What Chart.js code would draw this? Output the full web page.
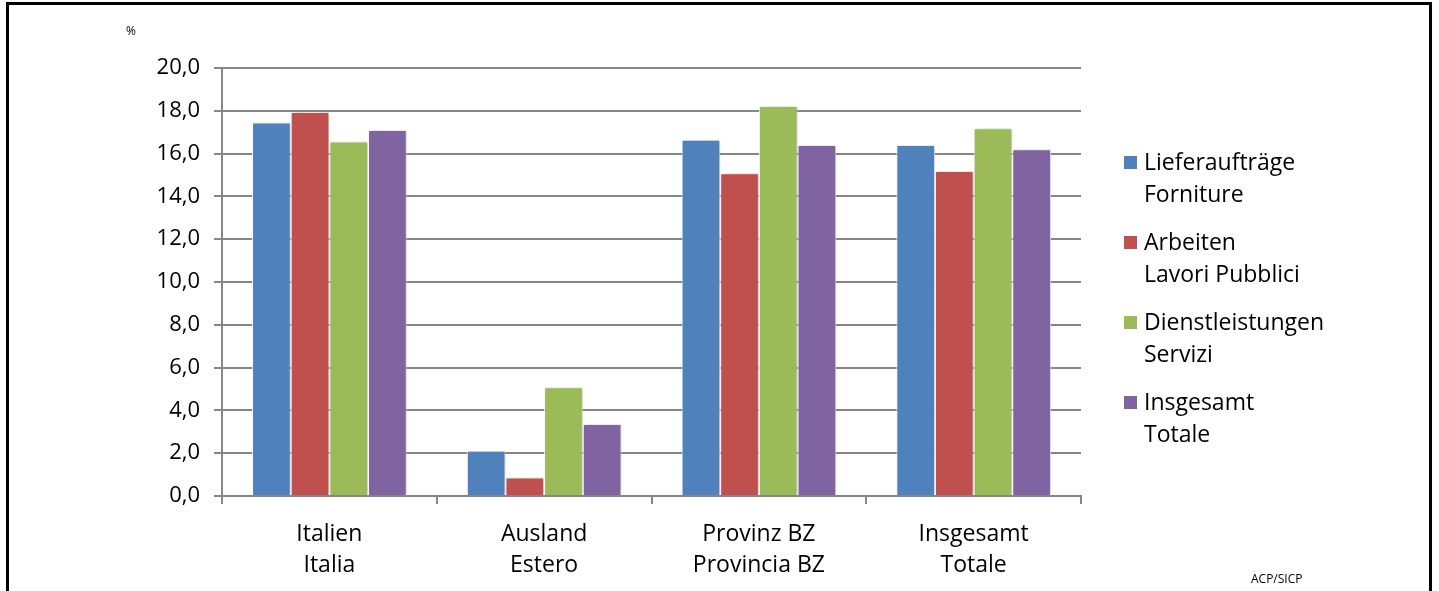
<!DOCTYPE html>
<html>
<head>
<meta charset="utf-8">
<script src="https://cdn.jsdelivr.net/npm/chart.js@4/dist/chart.umd.min.js"></script>
<style>
  html, body { margin: 0; padding: 0; background: #fff; }
  #wrap { position: relative; width: 1439px; height: 591px; overflow: hidden; }
  #frame { position: absolute; left: 6px; top: 2px; width: 1426px; height: 640px; border: 3px solid #000; box-sizing: border-box; pointer-events: none; }
  canvas { position: absolute; left: 0; top: 0; }
</style>
</head>
<body>
<div id="wrap">
  <canvas id="canvas" width="1439" height="591"></canvas>
  <div id="frame"></div>
</div>
<script>
  const categories = [
    ['Italien', 'Italia'],
    ['Ausland', 'Estero'],
    ['Provinz BZ', 'Provincia BZ'],
    ['Insgesamt', 'Totale']
  ];
  const seriesNames = [
    ['Lieferaufträge', 'Forniture'],
    ['Arbeiten', 'Lavori Pubblici'],
    ['Dienstleistungen', 'Servizi'],
    ['Insgesamt', 'Totale']
  ];
  const forniture = [17.45, 2.12, 16.65, 16.4];
  const lavori = [17.94, 0.87, 15.08, 15.19];
  const servizi = [16.56, 5.08, 18.22, 17.19];
  const totale = [17.1, 3.36, 16.4, 16.2];
  const colors = ['#4F81BD', '#C0504D', '#9BBB59', '#8064A2'];

  const FONT = '"Open Sans", "Noto Sans", sans-serif';

  // legend + small texts drawn by hand (two-line legend entries)
  const extras = {
    id: 'extras',
    afterDraw(chart) {
      const ctx = chart.ctx;
      ctx.save();
      ctx.fillStyle = '#000';
      ctx.textBaseline = 'middle';
      ctx.font = '12px ' + FONT;
      ctx.fillText('%', 126, 32);
      ctx.fillText('ACP/SICP', 1251, 580);
      ctx.font = '23px ' + FONT;
      chart.data.datasets.forEach((ds, i) => {
        const y = 163 + i * 80;
        ctx.fillStyle = ds.backgroundColor;
        ctx.fillRect(1124, y - 7, 13, 13);
        ctx.fillStyle = '#000';
        ds.label.forEach((line, j) => ctx.fillText(line, 1144, y + j * 32));
      });
      ctx.restore();
    },
    beforeDatasetsDraw(chart) {
      const ctx = chart.ctx;
      ctx.save();
      ctx.shadowColor = 'rgba(0,0,0,0.22)';
      ctx.shadowBlur = 4;
      ctx.shadowOffsetX = 2;
    },
    afterDatasetsDraw(chart) {
      chart.ctx.restore();
    }
  };

  const data = {
    labels: categories,
    datasets: [forniture, lavori, servizi, totale].map((vals, i) => ({
      label: seriesNames[i],
      data: vals,
      backgroundColor: colors[i],
      borderColor: '#fff',
      borderWidth: 1,
      barPercentage: 1,
      categoryPercentage: 0.72
    }))
  };

  new Chart(document.getElementById('canvas').getContext('2d'), {
    type: 'bar',
    data: data,
    plugins: [extras],
    options: {
      responsive: false,
      animation: false,
      layout: { padding: { left: 0, top: 68, right: 358, bottom: 0 } },
      plugins: { legend: { display: false }, tooltip: { enabled: false } },
      scales: {
        x: {
          afterFit(scale) { scale.height = 95; },
          grid: { drawOnChartArea: false, drawTicks: true, tickLength: 8, color: '#868686', lineWidth: 2 },
          border: { color: '#868686', width: 2 },
          ticks: { color: '#000', font: { family: FONT, size: 23, lineHeight: 1.35 }, padding: 15, maxRotation: 0 }
        },
        y: {
          min: 0,
          max: 20,
          afterFit(scale) { scale.width = 222; },
          grid: { color: '#868686', lineWidth: 2, tickLength: 8 },
          border: { color: '#868686', width: 2 },
          ticks: {
            stepSize: 2,
            color: '#000',
            padding: 14,
            font: { family: FONT, size: 22 },
            callback: v => v.toFixed(1).replace('.', ',')
          }
        }
      }
    }
  });
</script>
</body>
</html>
